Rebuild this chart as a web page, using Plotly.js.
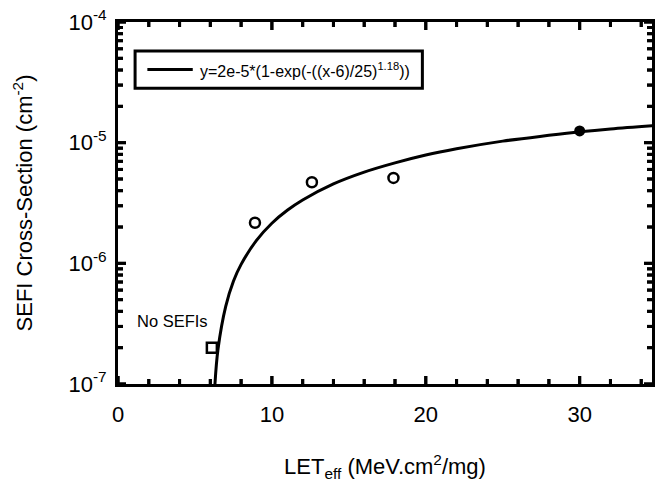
<!DOCTYPE html>
<html>
<head>
<meta charset="utf-8">
<script src="https://cdn.plot.ly/plotly-3.0.1.min.js"></script>
<style>
html,body{margin:0;padding:0;background:#fff;}
#chart{width:660px;height:482px;}
</style>
</head>
<body>
<div id="chart"></div>
<script>
// Measured SEFI cross-sections (open circles)
const measX = [8.9, 12.6, 17.9];
const measY = [2.17e-6, 4.7e-6, 5.1e-6];
// Filled point
const filledX = [30.0];
const filledY = [1.25e-5];
// "No SEFIs" upper-limit point (square)
const noSefiX = [6.1];
const noSefiY = [2.0e-7];
// Fitted Weibull curve
const fitX = [6.3, 6.5, 7.0, 7.5, 8.0, 9.0, 10.0, 11.0, 12.0, 14.0, 16.0, 18.0, 20.0, 22.0, 25.0, 28.0, 30.0, 32.0, 35.0];
const fitY = [1.0e-7, 1.95e-7, 4.4e-7, 7.1e-7, 9.8e-7, 1.55e-6, 2.15e-6, 2.75e-6, 3.35e-6, 4.55e-6, 5.7e-6, 6.8e-6, 7.9e-6, 8.9e-6, 1.03e-5, 1.15e-5, 1.23e-5, 1.3e-5, 1.39e-5];
// Axis ticks
const xMajor = [0, 10, 20, 30];
const xMinor = [2, 4, 6, 8, 12, 14, 16, 18, 22, 24, 26, 28, 32, 34];
const yMajor = [1e-7, 1e-6, 1e-5, 1e-4];
const yMajorText = ['10<sup>-7</sup>', '10<sup>-6</sup>', '10<sup>-5</sup>', '10<sup>-4</sup>'];
const yMinor = [2e-7,3e-7,4e-7,5e-7,6e-7,7e-7,8e-7,9e-7,
                2e-6,3e-6,4e-6,5e-6,6e-6,7e-6,8e-6,9e-6,
                2e-5,3e-5,4e-5,5e-5,6e-5,7e-5,8e-5,9e-5];
const legendText = 'y=2e-5*(1-exp(-((x-6)/25)<sup>1.18</sup>))';
const noteText = 'No SEFIs';
const xTitle = 'LET<sub>eff</sub> (MeV.cm<sup>2</sup>/mg)';
const yTitle = 'SEFI Cross-Section (cm<sup>-2</sup>)';

const FONT = 'Liberation Sans, Arial, Helvetica, sans-serif';
const XR = [0, 34.7];
const YR = [-7, -4];
const W = 660, H = 482, ML = 118, MR = 8, MT = 22, MB = 98;
const PW = W - ML - MR, PH = H - MT - MB;
const MAJ = 8, MIN = 5;

// tick marks built as line traces on the axes' own scales (pixel length -> axis units)
const xPerPx = (XR[1] - XR[0]) / PW;
const decPerPx = (YR[1] - YR[0]) / PH;
const yLo = Math.pow(10, YR[0]), yHi = Math.pow(10, YR[1]);
function xTickTrace(vals, len) {
  const k = Math.pow(10, len * decPerPx);
  const xs = [], ys = [];
  vals.forEach(v => { xs.push(v, v, null, v, v, null); ys.push(yLo, yLo * k, null, yHi, yHi / k, null); });
  return {x: xs, y: ys, mode: 'lines', line: {color: '#000', width: 3}, hoverinfo: 'skip', cliponaxis: false, connectgaps: false};
}
function yTickTrace(vals, len) {
  const d = len * xPerPx;
  const xs = [], ys = [];
  vals.forEach(v => { xs.push(XR[0], XR[0] + d, null, XR[1], XR[1] - d, null); ys.push(v, v, null, v, v, null); });
  return {x: xs, y: ys, mode: 'lines', line: {color: '#000', width: 3}, hoverinfo: 'skip', cliponaxis: false, connectgaps: false};
}

const traces = [
  xTickTrace(xMajor, MAJ), xTickTrace(xMinor, MIN),
  yTickTrace(yMajor, MAJ), yTickTrace(yMinor, MIN),
  {x: fitX, y: fitY, mode: 'lines', line: {color: '#000', width: 3, shape: 'spline'}, hoverinfo: 'skip'},
  {x: measX, y: measY, mode: 'markers', marker: {symbol: 'circle-open', size: 10, color: '#000', line: {width: 2.5, color: '#000'}}},
  {x: filledX, y: filledY, mode: 'markers', marker: {symbol: 'circle', size: 11, color: '#000'}},
  {x: noSefiX, y: noSefiY, mode: 'markers', marker: {symbol: 'square-open', size: 10, color: '#000', line: {width: 2.5, color: '#000'}}}
];

// inward tick marks as shapes as well
const shapes = [];
function addXTicks(vals, len) {
  const f = len / PH;
  vals.forEach(v => {
    shapes.push({type: 'line', xref: 'x', yref: 'paper', x0: v, x1: v, y0: 0, y1: f, line: {color: 'black', width: 3}});
    shapes.push({type: 'line', xref: 'x', yref: 'paper', x0: v, x1: v, y0: 1, y1: 1 - f, line: {color: 'black', width: 3}});
  });
}
function addYTicks(vals, len) {
  const f = len / PW;
  vals.forEach(v => {
    shapes.push({type: 'line', xref: 'paper', yref: 'y', x0: 0, x1: f, y0: v, y1: v, line: {color: 'black', width: 3}});
    shapes.push({type: 'line', xref: 'paper', yref: 'y', x0: 1, x1: 1 - f, y0: v, y1: v, line: {color: 'black', width: 3}});
  });
}
addXTicks(xMajor, MAJ);
addXTicks(xMinor, MIN);
addYTicks(yMajor, MAJ);
addYTicks(yMinor, MIN);

// legend box and sample line
shapes.push({type: 'rect', xref: 'paper', yref: 'paper', x0: 0.032, x1: 0.57, y0: 0.817, y1: 0.92, line: {color: '#000', width: 3}, fillcolor: 'rgba(0,0,0,0)'});
shapes.push({type: 'line', xref: 'paper', yref: 'paper', x0: 0.055, x1: 0.14, y0: 0.8685, y1: 0.8685, line: {color: '#000', width: 3}});

const layout = {
  width: W, height: H,
  margin: {l: ML, r: MR, t: MT, b: MB},
  paper_bgcolor: '#fff', plot_bgcolor: '#fff',
  showlegend: false,
  font: {family: FONT, color: '#000', size: 22},
  xaxis: {
    range: XR, tickmode: 'array', tickvals: xMajor,
    ticks: 'outside', ticklen: 9, tickcolor: 'rgba(0,0,0,0)',
    showline: true, linewidth: 3, linecolor: '#000', mirror: true,
    showgrid: false, zeroline: false,
    tickfont: {size: 22, family: FONT},
    title: {text: xTitle, font: {size: 22, family: FONT}, standoff: 46}
  },
  yaxis: {
    type: 'log', range: YR, tickmode: 'array', tickvals: yMajor, ticktext: yMajorText,
    ticks: 'outside', ticklen: 4, tickcolor: 'rgba(0,0,0,0)',
    showline: true, linewidth: 3, linecolor: '#000', mirror: true,
    showgrid: false, zeroline: false,
    tickfont: {size: 22, family: FONT},
    title: {text: yTitle, font: {size: 22, family: FONT}, standoff: 30}
  },
  shapes: shapes,
  annotations: [
    {xref: 'paper', yref: 'paper', x: 0.15, y: 0.8685, xanchor: 'left', yanchor: 'middle', text: legendText, showarrow: false, font: {size: 16, family: FONT}},
    {xref: 'x', yref: 'paper', x: 6.0, y: 0.175, xanchor: 'right', yanchor: 'middle', text: noteText, showarrow: false, font: {size: 16.5, family: FONT}}
  ]
};

Plotly.newPlot('chart', traces, layout, {displayModeBar: false, staticPlot: true});
</script>
</body>
</html>
